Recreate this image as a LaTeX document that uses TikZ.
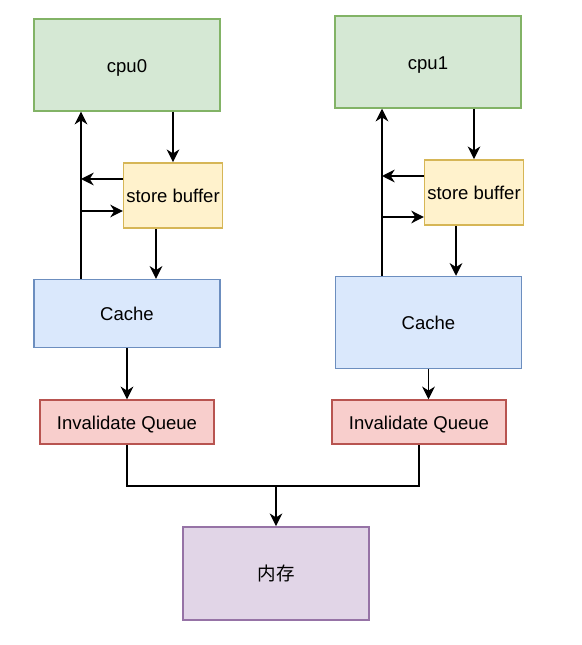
\documentclass[tikz,border=0pt]{standalone}
\usepackage{fontspec}
\setmainfont{Liberation Sans}
\newfontfamily\cjk{Noto Sans CJK SC}
\usetikzlibrary{arrows.meta}
\definecolor{gfill}{HTML}{D5E8D4}\definecolor{gline}{HTML}{82B366}
\definecolor{yfill}{HTML}{FFF2CC}\definecolor{yline}{HTML}{D6B656}
\definecolor{bfill}{HTML}{DAE8FC}\definecolor{bline}{HTML}{6C8EBF}
\definecolor{rfill}{HTML}{F8CECC}\definecolor{rline}{HTML}{B85450}
\definecolor{pfill}{HTML}{E1D5E7}\definecolor{pline}{HTML}{9673A6}
\begin{document}
\begin{tikzpicture}[x=0.75pt,y=-0.75pt,
  box/.style={draw,line width=1.1pt,inner sep=0pt,text height=11.2pt,text depth=0pt,font=\fontsize{13.9pt}{16pt}\selectfont},
  cpubox/.style={box,fill=gfill,draw=gline,minimum width=139.5pt,minimum height=69pt},
  sbbox/.style={box,fill=yfill,draw=yline,minimum width=74pt,minimum height=49pt},
  cachebox/.style={box,fill=bfill,draw=bline,minimum width=139.5pt},
  iqbox/.style={box,fill=rfill,draw=rline,minimum width=130.5pt,minimum height=33pt},
  membox/.style={box,fill=pfill,draw=pline,minimum width=139.5pt,minimum height=70pt},
  link/.style={line width=1.1pt},
  arr/.style={link,-{Stealth[length=9.5pt,width=9.5pt,inset=3pt]}}]
\useasboundingbox (0,0) rectangle (581,645);
% nodes
\node[cpubox] (cpu0) at (127,65) {cpu0};
\node[cpubox] (cpu1) at (428,62) {cpu1};
\node[sbbox] (sb0) at (173,195.5) {store buffer};
\node[sbbox] (sb1) at (474,192.5) {store buffer};
\node[cachebox,minimum height=51pt] (c0) at (127,313.5) {Cache};
\node[cachebox,minimum height=69pt] (c1) at (428.5,322.5) {Cache};
\node[iqbox] (iq0) at (127,422) {Invalidate Queue};
\node[iqbox] (iq1) at (419,422) {Invalidate Queue};
\node[membox] (mem) at (276,573.5) {\cjk 内存};
% helper coordinates
\coordinate (v0) at (81,0);
\coordinate (a0) at (0,179);
\coordinate (b0) at (0,211);
\coordinate (d0) at (156,0);
\coordinate (v1) at (382,0);
\coordinate (a1) at (0,176);
\coordinate (b1) at (0,217);
\coordinate (d1) at (456,0);
\coordinate (j) at (276,486);
% left column
\draw[arr] (cpu0.south -| sb0.north) -- (sb0.north);
\draw[arr] (v0 |- c0.north) -- (v0 |- cpu0.south);
\draw[arr] (sb0.west |- a0) -- (v0 |- a0);
\draw[arr] (v0 |- b0) -- (sb0.west |- b0);
\draw[arr] (sb0.south -| d0) -- (c0.north -| d0);
\draw[arr] (c0.south) -- (iq0.north);
% right column
\draw[arr] (cpu1.south -| sb1.north) -- (sb1.north);
\draw[arr] (v1 |- c1.north) -- (v1 |- cpu1.south);
\draw[arr] (sb1.west |- a1) -- (v1 |- a1);
\draw[arr] (v1 |- b1) -- (sb1.west |- b1);
\draw[arr] (sb1.south -| d1) -- (c1.north -| d1);
\draw[arr] (c1.south) -- (iq1.north -| c1.south);
% to memory
\draw[link] (iq0.south) |- (j) -| (iq1.south);
\draw[arr] (j) -- (mem.north);
\end{tikzpicture}
\end{document}
